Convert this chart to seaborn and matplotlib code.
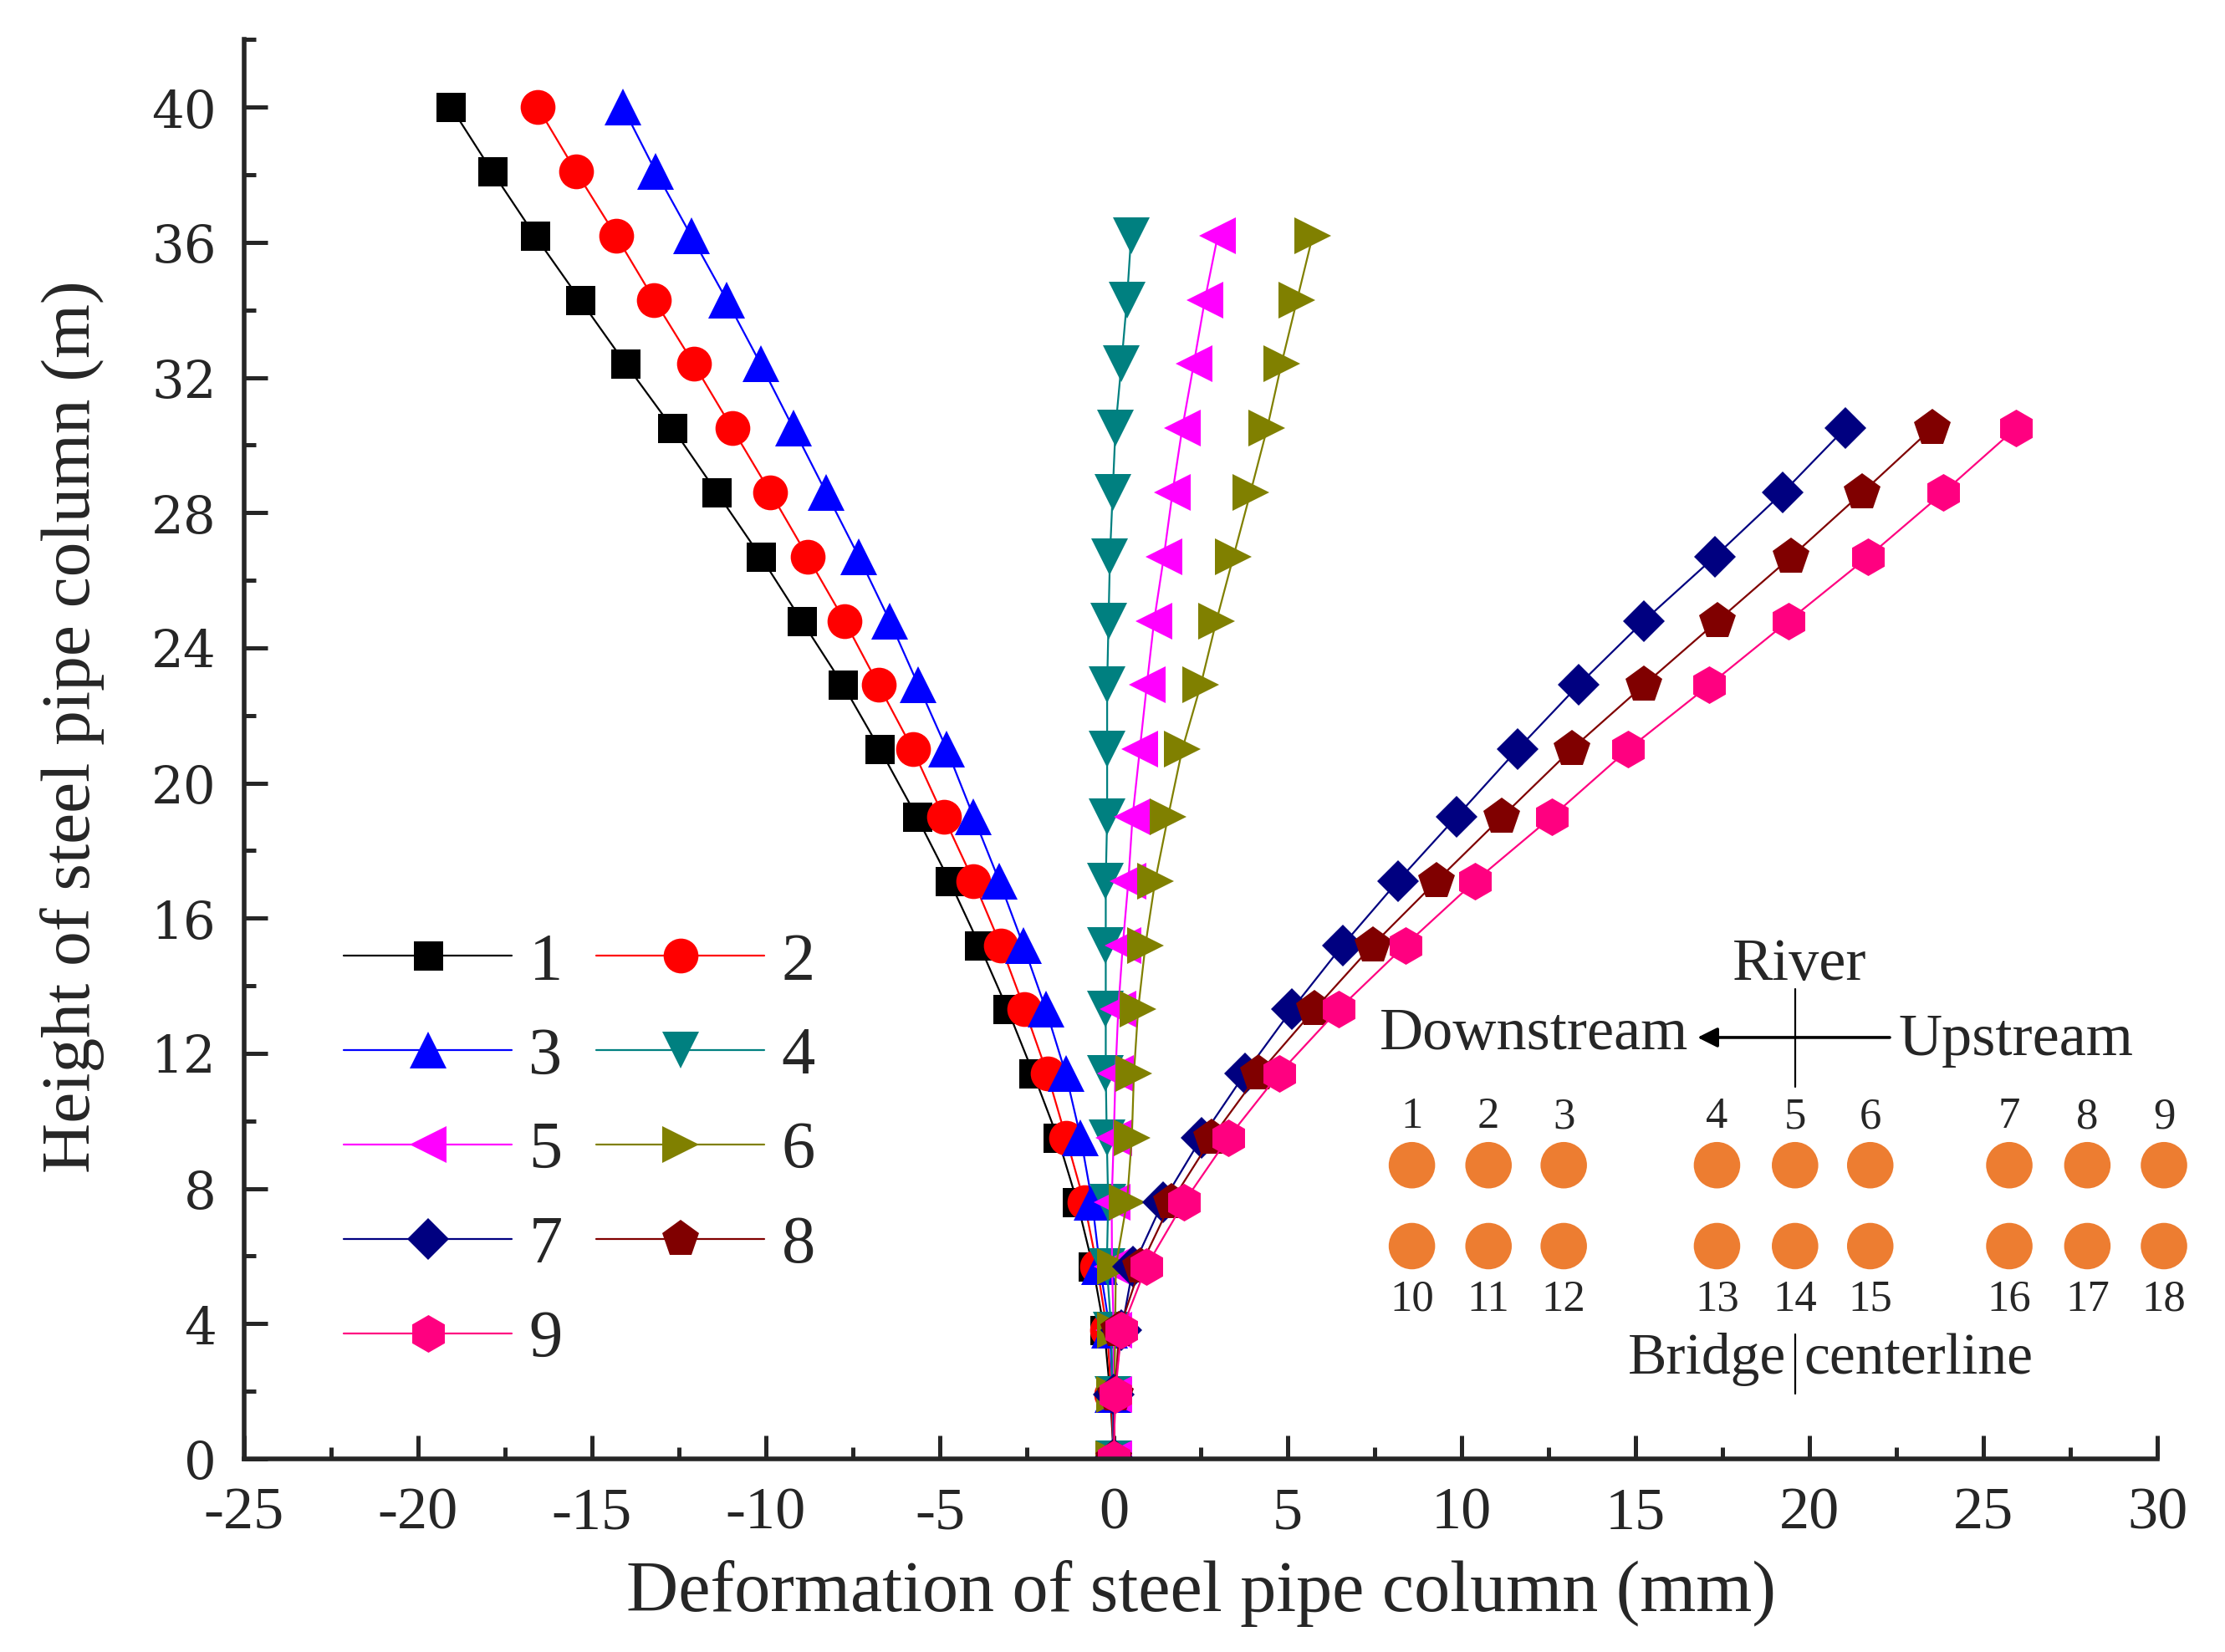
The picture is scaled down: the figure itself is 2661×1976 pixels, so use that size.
import matplotlib
matplotlib.use("Agg")
import numpy as np
import pandas as pd
import matplotlib.pyplot as plt
import seaborn as sns
from matplotlib.lines import Line2D
from matplotlib.ticker import MultipleLocator

# ---------------- data ----------------
heights = [0.0, 1.9, 3.8, 5.7, 7.6, 9.5, 11.4, 13.3, 15.2, 17.1, 19.0,
           21.0, 22.9, 24.8, 26.7, 28.6, 30.5, 32.4, 34.3, 36.2, 38.1, 40.0]

s1 = [0, -0.10, -0.27, -0.60, -1.05, -1.61, -2.31, -3.05, -3.86, -4.72, -5.66,
      -6.72, -7.78, -8.97, -10.15, -11.41, -12.68, -14.03, -15.34, -16.64, -17.87, -19.05]
s2 = [0, -0.07, -0.19, -0.48, -0.85, -1.37, -1.91, -2.56, -3.25, -4.03, -4.89,
      -5.78, -6.76, -7.74, -8.80, -9.87, -10.97, -12.07, -13.21, -14.31, -15.46, -16.56]
s3 = [0, -0.03, -0.11, -0.40, -0.62, -0.95, -1.38, -1.95, -2.60, -3.29, -4.03,
      -4.80, -5.62, -6.44, -7.33, -8.27, -9.21, -10.15, -11.13, -12.15, -13.17, -14.11]
s4 = [0, -0.03, -0.07, -0.20, -0.16, -0.20, -0.23, -0.23, -0.23, -0.23,
      -0.19, -0.19, -0.19, -0.15, -0.11, -0.03, 0.05, 0.22, 0.38, 0.50]
s5 = [0, 0.0, 0.0, -0.05, -0.06, 0.0, 0.05, 0.13, 0.26, 0.42,
      0.54, 0.75, 0.95, 1.16, 1.44, 1.69, 1.97, 2.30, 2.62, 2.99]
s6 = [0, 0.02, 0.04, 0.06, 0.38, 0.52, 0.58, 0.70, 0.91, 1.19,
      1.56, 1.97, 2.50, 2.95, 3.44, 3.93, 4.41, 4.82, 5.27, 5.72]
s7 = [0, 0.01, 0.22, 0.56, 1.41, 2.52, 3.77, 5.12, 6.58, 8.17, 9.85,
      11.61, 13.36, 15.24, 17.28, 19.24, 21.03]
s8 = [0, 0.04, 0.15, 0.77, 1.65, 2.82, 4.17, 5.77, 7.44, 9.28, 11.16,
      13.16, 15.24, 17.36, 19.48, 21.52, 23.52]
s9 = [0, 0.04, 0.22, 0.94, 2.02, 3.29, 4.75, 6.46, 8.38, 10.39, 12.59,
      14.79, 17.12, 19.40, 21.69, 23.85, 25.93]

series_labels = ["1", "2", "3", "4", "5", "6", "7", "8", "9"]
series_values = [s1, s2, s3, s4, s5, s6, s7, s8, s9]
colors = ["#000000", "#FF0000", "#0000FF", "#008080", "#FF00FF",
          "#808000", "#000080", "#800000", "#FF0080"]
markers = ["s", "o", "^", "v", "<", ">", "D", "p", "h"]
marker_sizes = {"s": 12.6, "o": 15.0, "^": 15.5, "v": 15.5, "<": 15.5, ">": 15.5,
                "D": 12.7, "p": 16.5, "h": 16.2}

pile_cols_x = [995, 1049, 1102, 1210, 1265, 1318, 1416, 1471, 1525]
pile_top_labels = ["1", "2", "3", "4", "5", "6", "7", "8", "9"]
pile_bot_labels = ["10", "11", "12", "13", "14", "15", "16", "17", "18"]
pile_rows_y = [821, 878]

xticks = [-25, -20, -15, -10, -5, 0, 5, 10, 15, 20, 25, 30]
yticks = [0, 4, 8, 12, 16, 20, 24, 28, 32, 36, 40]

# ---------------- frame ----------------
rows = []
for lab, vals in zip(series_labels, series_values):
    for x, h in zip(vals, heights[:len(vals)]):
        rows.append({"series": lab, "deform": x, "height": h})
df = pd.DataFrame(rows)

sns.set_theme(style="ticks")
plt.rcParams["font.family"] = ["Liberation Serif", "DejaVu Serif"]

fig = plt.figure(figsize=(13.305, 9.88), dpi=200)
ax = fig.add_axes([0.1097, 0.1169, 0.8599, 0.8591])

pal = dict(zip(series_labels, colors))
mk = dict(zip(series_labels, markers))
sns.lineplot(data=df, x="deform", y="height", hue="series", style="series",
             palette=pal, markers=mk, dashes=False, sort=False, estimator=None,
             markersize=13, linewidth=0.8, markeredgewidth=0, legend=False, ax=ax)
for ln in ax.lines:
    m = ln.get_marker()
    if m in marker_sizes:
        ln.set_markersize(marker_sizes[m])

ax.set_xlim(-25, 30)
ax.set_ylim(0, 42)
ax.set_xticks(xticks)
ax.set_yticks(yticks)
ax.xaxis.set_minor_locator(MultipleLocator(2.5))
ax.yaxis.set_minor_locator(MultipleLocator(2))
ax.set_xticklabels([str(t) for t in xticks], fontsize=26, family=["Liberation Serif"])
ax.set_yticklabels([str(t) for t in yticks], fontsize=22, family=["DejaVu Serif"])
ax.tick_params(axis="both", which="major", direction="in", length=10, width=1.8, pad=12)
ax.tick_params(axis="both", which="minor", direction="in", length=5, width=1.8)
for side in ["top", "right"]:
    ax.spines[side].set_visible(False)
for side in ["left", "bottom"]:
    ax.spines[side].set_linewidth(2.0)
ax.set_xlabel("Deformation of steel pipe column (mm)", fontsize=31, labelpad=8)
ax.set_ylabel("Height of steel pipe column (m)", fontsize=30)
ax.yaxis.set_label_coords(-0.073, 0.516)

# legend (row-major order like the reference)
handles = [Line2D([], [], color=c, marker=m, markersize=marker_sizes[m],
                  markeredgewidth=0, lw=0.8)
           for c, m in zip(colors, markers)]
order = [0, 2, 4, 6, 8, 1, 3, 5, 7]
ax.legend([handles[i] for i in order], [series_labels[i] for i in order],
          ncol=2, loc="upper left", bbox_to_anchor=(0.052, 0.371), frameon=False,
          fontsize=29, handlelength=2.5, handletextpad=0.25, columnspacing=0.5,
          labelspacing=0.49, borderpad=0, borderaxespad=0)

# ---------------- inset diagram ----------------
ov = fig.add_axes([0, 0, 1, 1], facecolor="none")
ov.set_xlim(0, 1568)
ov.set_ylim(1164, 0)
ov.axis("off")
ov.text(1268, 680, "River", fontsize=26, ha="center", va="center")
ov.plot([1265, 1265], [697, 766], color="black", lw=0.8)
ov.annotate("", xy=(1193, 731), xytext=(1335, 731),
            arrowprops=dict(arrowstyle="-|>", color="black", lw=1.3, mutation_scale=18))
ov.text(1190, 729, "Downstream", fontsize=26, ha="right", va="center")
ov.text(1338, 733, "Upstream", fontsize=26, ha="left", va="center")
for x, t1, t2 in zip(pile_cols_x, pile_top_labels, pile_bot_labels):
    ov.text(x, 787, t1, fontsize=19, ha="center", va="center")
    ov.text(x, 916, t2, fontsize=19, ha="center", va="center")
for yrow in pile_rows_y:
    ov.scatter(pile_cols_x, [yrow] * len(pile_cols_x), s=400, color="#ED7D31",
               edgecolors="none")
ov.text(1259, 958, "Bridge", fontsize=25, ha="right", va="center")
ov.text(1271, 958, "centerline", fontsize=25, ha="left", va="center")
ov.plot([1265, 1265], [940, 982], color="black", lw=0.8)

fig.savefig("out.png", dpi=200)
